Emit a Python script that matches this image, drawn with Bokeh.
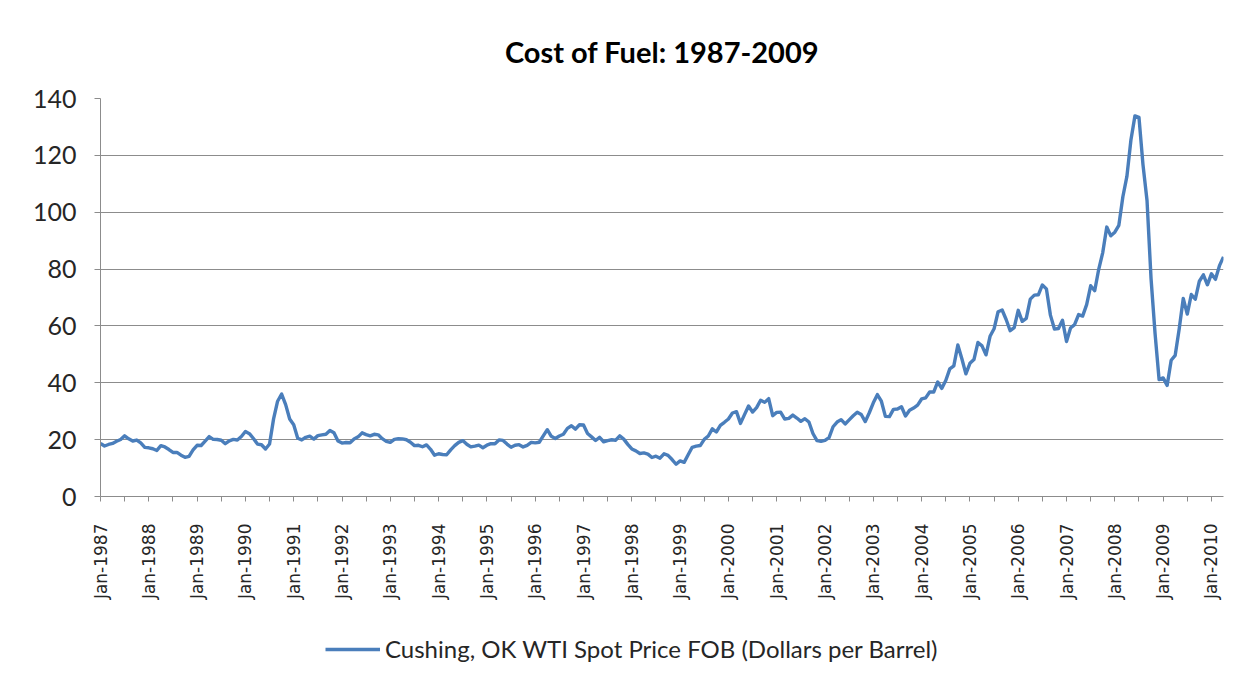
import numpy as np
from bokeh.plotting import figure
from bokeh.layouts import column
from bokeh.models import Range1d, FixedTicker, Legend, LegendItem
from bokeh.embed import file_html
from bokeh.resources import INLINE

# Monthly WTI spot price (Dollars per Barrel), Jan-1987 .. Apr-2010
years = list(range(1987, 2011))
prices = [
    # 1987
    18.65, 17.75, 18.30, 18.68, 19.44, 20.07, 21.34, 20.31, 19.53, 19.86, 18.85, 17.28,
    # 1988
    17.13, 16.80, 16.20, 17.86, 17.42, 16.53, 15.50, 15.52, 14.54, 13.77, 14.14, 16.38,
    # 1989
    18.02, 17.94, 19.48, 21.07, 20.12, 20.05, 19.78, 18.58, 19.59, 20.10, 19.86, 21.10,
    # 1990
    22.86, 22.11, 20.39, 18.43, 18.20, 16.70, 18.45, 27.31, 33.51, 36.04, 32.33, 27.28,
    # 1991
    25.23, 20.48, 19.90, 20.83, 21.23, 20.19, 21.40, 21.69, 21.89, 23.23, 22.46, 19.50,
    # 1992
    18.79, 19.01, 18.92, 20.23, 20.98, 22.39, 21.78, 21.34, 21.88, 21.69, 20.34, 19.41,
    # 1993
    19.03, 20.09, 20.32, 20.25, 19.95, 19.09, 17.89, 18.01, 17.50, 18.15, 16.61, 14.52,
    # 1994
    15.03, 14.78, 14.68, 16.42, 17.89, 19.06, 19.66, 18.38, 17.45, 17.72, 18.07, 17.16,
    # 1995
    18.04, 18.57, 18.54, 19.90, 19.74, 18.45, 17.33, 18.02, 18.23, 17.43, 17.99, 19.03,
    # 1996
    18.85, 19.09, 21.33, 23.50, 21.17, 20.42, 21.30, 21.90, 23.97, 24.88, 23.71, 25.23,
    # 1997
    25.13, 22.18, 20.97, 19.70, 20.82, 19.26, 19.66, 19.95, 19.80, 21.33, 20.19, 18.33,
    # 1998
    16.72, 16.06, 15.12, 15.35, 14.91, 13.72, 14.17, 13.47, 15.03, 14.46, 13.00, 11.35,
    # 1999
    12.52, 12.01, 14.68, 17.31, 17.72, 17.92, 20.10, 21.28, 23.80, 22.69, 25.00, 26.10,
    # 2000
    27.26, 29.37, 29.84, 25.72, 28.79, 31.82, 29.70, 31.26, 33.88, 33.11, 34.42, 28.44,
    # 2001
    29.59, 29.61, 27.25, 27.49, 28.63, 27.60, 26.43, 27.37, 26.20, 22.17, 19.64, 19.39,
    # 2002
    19.72, 20.72, 24.53, 26.18, 27.04, 25.52, 26.97, 28.39, 29.66, 28.84, 26.35, 29.46,
    # 2003
    32.95, 35.83, 33.51, 28.17, 28.11, 30.66, 30.76, 31.57, 28.31, 30.34, 31.11, 32.13,
    # 2004
    34.31, 34.69, 36.74, 36.75, 40.28, 38.03, 40.78, 44.90, 45.94, 53.28, 48.47, 43.15,
    # 2005
    46.84, 48.15, 54.19, 52.98, 49.83, 56.35, 59.00, 64.99, 65.59, 62.26, 58.32, 59.41,
    # 2006
    65.49, 61.63, 62.69, 69.44, 70.84, 70.95, 74.41, 73.04, 63.80, 58.89, 59.08, 61.96,
    # 2007
    54.51, 59.28, 60.44, 63.98, 63.46, 67.49, 74.12, 72.36, 79.92, 85.80, 94.77, 91.69,
    # 2008
    92.97, 95.39, 105.45, 112.58, 125.40, 133.88, 133.37, 116.67, 104.11, 76.61, 57.31, 41.12,
    # 2009
    41.71, 39.09, 47.94, 49.65, 59.03, 69.64, 64.15, 71.05, 69.41, 75.72, 77.99, 74.47,
    # 2010
    78.33, 76.39, 81.20, 84.29,
]
tick_labels = ["Jan-%d" % y for y in years]
y_ticks = [0, 20, 40, 60, 80, 100, 120, 140]
series_name = "Cushing, OK WTI Spot Price FOB (Dollars per Barrel)"
title_text = "Cost of Fuel: 1987-2009"

x = list(range(len(prices)))
major = [12 * i for i in range(len(years))]
minor = [12 * i + 6 for i in range(len(years) - 1)]

GRID = "#8c8c8c"
TEXT = "#262626"
LINE = "#4A7EBB"

p = figure(frame_width=1123, frame_height=398, output_backend="svg", toolbar_location=None,
           x_range=Range1d(0, len(prices) - 1), y_range=Range1d(0, 140),
           min_border_left=100, min_border_right=9, min_border_top=98, min_border_bottom=126,
           title=title_text)
p.outline_line_color = None
p.background_fill_color = "white"
p.border_fill_color = "white"

p.title.align = "center"
p.title.text_font = "Lato"
p.title.text_font_style = "bold"
p.title.text_font_size = "29px"
p.title.text_color = "#000000"
p.title.standoff = 59

p.line(x, prices, line_color=LINE, line_width=3.4, line_join="round")

# x axis
p.xaxis.ticker = FixedTicker(ticks=major, minor_ticks=minor)
p.xaxis.major_label_overrides = {m: lab for m, lab in zip(major, tick_labels)}
p.xaxis.major_label_orientation = np.pi / 2
p.xaxis.major_label_text_font = "DejaVu Sans"
p.xaxis.major_label_text_font_size = "17px"
p.xaxis.major_label_text_color = TEXT
p.xaxis.major_label_standoff = 22
p.xaxis.axis_line_color = GRID
p.xaxis.major_tick_line_color = GRID
p.xaxis.minor_tick_line_color = GRID
p.xaxis.major_tick_out = 5
p.xaxis.major_tick_in = 0
p.xaxis.minor_tick_out = 5
p.xaxis.minor_tick_in = 0

# y axis
p.yaxis.ticker = FixedTicker(ticks=y_ticks)
p.yaxis.major_label_text_font = "Lato"
p.yaxis.major_label_text_font_size = "25px"
p.yaxis.major_label_text_color = TEXT
p.yaxis.major_label_standoff = 18
p.yaxis.axis_line_color = GRID
p.yaxis.major_tick_line_color = GRID
p.yaxis.minor_tick_line_color = None
p.yaxis.major_tick_out = 6
p.yaxis.major_tick_in = 0

p.xgrid.grid_line_color = None
p.ygrid.grid_line_color = GRID
p.ygrid.grid_line_width = 1.2

# legend strip below the chart (its frame is aligned with the chart frame)
lg = figure(width=1232, height=48, output_backend="svg", toolbar_location=None,
            x_range=Range1d(0, len(prices) - 1), y_range=Range1d(-20, -10),
            x_axis_type=None, y_axis_type=None,
            min_border_left=0, min_border_right=0, min_border_top=0, min_border_bottom=0)
lg.outline_line_color = None
lg.grid.grid_line_color = None
lg.background_fill_color = "white"
lg.border_fill_color = "white"
r2 = lg.line(x, prices, line_color=LINE, line_width=3.4)

legend = Legend(items=[LegendItem(label=series_name, renderers=[r2])],
                location=(225, 7), orientation="horizontal",
                padding=0, margin=0, spacing=0,
                glyph_width=55, glyph_height=24, label_standoff=5,
                label_text_font="Lato", label_text_font_size="24px",
                label_text_color=TEXT, label_height=24,
                border_line_color=None, background_fill_alpha=0)
lg.add_layout(legend, "center")

layout = column(p, lg, spacing=0)
open("out.html", "w").write(file_html(layout, INLINE))
